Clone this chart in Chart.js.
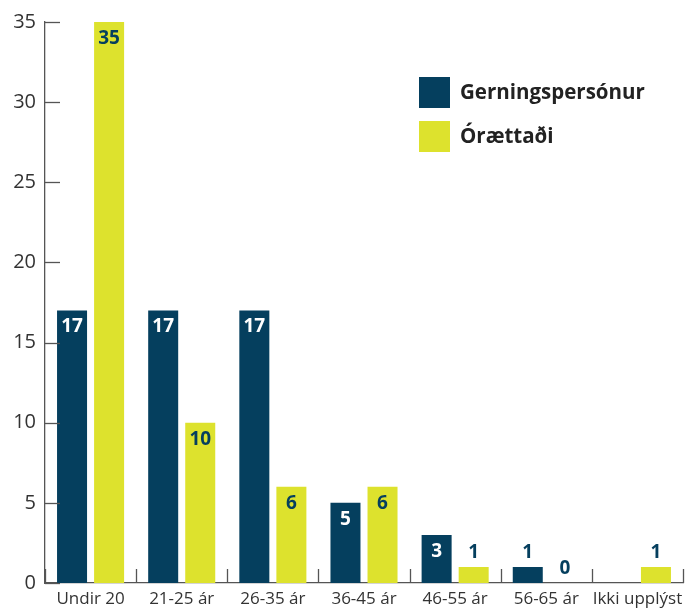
<!DOCTYPE html>
<html><head><meta charset="utf-8">
<script src="https://cdn.jsdelivr.net/npm/chart.js@4/dist/chart.umd.min.js"></script>
<style>html,body{margin:0;padding:0;background:#fff}#wrap{width:698px;height:612px}</style>
</head><body><div id="wrap"><canvas id="c" width="698" height="612"></canvas></div>
<script>
const categories = ["Undir 20","21-25 ár","26-35 ár","36-45 ár","46-55 ár","56-65 ár","Ikki upplýst"];
const gerningspersonur = [17,17,17,5,3,1,null];
const oraettadi = [35,10,6,6,1,0,1];
const seriesNames = ["Gerningspersónur","Órættaði"];
const yTicks = [0,5,10,15,20,25,30,35];
const BLUE = "#053f5e", YELLOW = "#dde22d";
const FONT = "'Open Sans', sans-serif";

const extras = {
  id: 'extras',
  afterDraw(chart) {
    const ctx = chart.ctx, x = chart.scales.x, y = chart.scales.y, ca = chart.chartArea;
    ctx.save();
    ctx.strokeStyle = "#555"; ctx.lineWidth = 1.3;
    yTicks.forEach(v => { const py = Math.round(y.getPixelForValue(v)) + 0.5;
      ctx.beginPath(); ctx.moveTo(ca.left, py); ctx.lineTo(ca.left + 15, py); ctx.stroke(); });
    const n = categories.length;
    for (let i = 0; i <= n; i++) {
      const px = Math.round(x.getPixelForValue(i - 0.5)) + 0.5;
      ctx.beginPath(); ctx.moveTo(px, ca.bottom); ctx.lineTo(px, ca.bottom - 14); ctx.stroke();
    }
    ctx.font = "bold 19px " + FONT; ctx.textAlign = "center"; ctx.textBaseline = "top";
    chart.data.datasets.forEach((ds, di) => {
      const meta = chart.getDatasetMeta(di);
      meta.data.forEach((bar, i) => {
        const v = ds.data[i]; if (v === null || v === undefined) return;
        const h = bar.base - bar.y;
        if (h >= 40) { ctx.fillStyle = di === 0 ? "#fff" : BLUE; ctx.fillText(String(v), bar.x, bar.y + 7); }
        else { ctx.fillStyle = BLUE; ctx.fillText(String(v), bar.x, bar.y - 24); }
      });
    });
    const lg = [[BLUE, seriesNames[0], 77],[YELLOW, seriesNames[1], 121]];
    ctx.textAlign = "left"; ctx.textBaseline = "middle"; ctx.font = "bold 20.5px " + FONT;
    lg.forEach(([c, t, ty]) => { ctx.fillStyle = c; ctx.fillRect(419, ty, 31, 31);
      ctx.fillStyle = "#222"; ctx.fillText(t, 460, ty + 16); });
    ctx.restore();
  }
};

new Chart(document.getElementById('c'), {
  type: 'bar',
  data: { labels: categories, datasets: [
    { label: seriesNames[0], data: gerningspersonur, backgroundColor: BLUE },
    { label: seriesNames[1], data: oraettadi, backgroundColor: YELLOW }
  ]},
  options: {
    responsive: false, animation: false, devicePixelRatio: 1,
    layout: { padding: { top: 22, right: 15, left: 0, bottom: 0 } },
    barPercentage: 0.81, categoryPercentage: 0.813,
    plugins: { legend: { display: false }, tooltip: { enabled: false } },
    scales: {
      x: { grid: { display: false, drawTicks: false }, border: { display: true, color: "#555", width: 1.3 },
           ticks: { color: "#333", font: { family: FONT, size: 17 }, padding: 6, maxRotation: 0, autoSkip: false },
           afterFit(s) { s.height = 29; } },
      y: { min: 0, max: 35, grid: { display: false, drawTicks: false }, border: { display: true, color: "#555", width: 1.3 },
           afterBuildTicks(s) { s.ticks = yTicks.map(v => ({ value: v })); },
           ticks: { color: "#333", font: { family: FONT, size: 20 }, padding: 9 },
           afterFit(s) { s.width = 45; } }
    }
  },
  plugins: [extras]
});
</script></body></html>
